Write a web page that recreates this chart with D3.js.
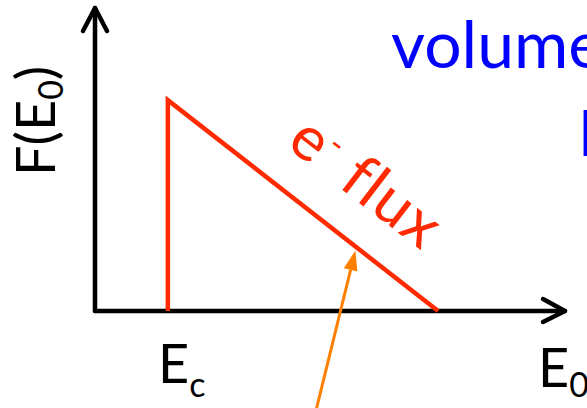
<!DOCTYPE html>
<html><head><meta charset="utf-8">
<script src="https://cdn.jsdelivr.net/npm/d3@7"></script>
<style>html,body{margin:0;padding:0;background:#fff;overflow:hidden}</style>
</head><body>
<script>
// Data (arbitrary energy/flux units)
const energy = [15.5, 15.5, 73];   // Ec, Ec, Emax
const flux   = [0, 69.6, 0];       // triangle spectrum
const axisLabels = {x: "E", xSub: "0", y: "F(E", ySub: "0"};
const cutLabel = "E", cutSub = "c";
const curveLabel = "e", curveSup = "-", curveRest = " flux";
const titleText = "volume";
const arrowFrom = [47, -33];   // orange pointer, data coords
const arrowTo = [55.4, 20];

const W = 587, H = 408;
const svg = d3.select("body").append("svg").attr("width", W).attr("height", H);
const x = d3.scaleLinear().domain([0, 100]).range([95, 565]);
const y = d3.scaleLinear().domain([0, 100]).range([311, 8]);
const font = "Lato, 'Open Sans', sans-serif";

// axes
const ax = svg.append("g").attr("stroke", "#000").attr("stroke-width", 4.5)
  .attr("stroke-linecap", "round").attr("stroke-linejoin", "round").attr("fill", "none");
ax.append("line").attr("x1", x(0)).attr("y1", y(0)).attr("x2", x(0)).attr("y2", y(100));
ax.append("line").attr("x1", x(0)).attr("y1", y(0)).attr("x2", x(100)).attr("y2", y(0));
ax.append("path").attr("d", `M${x(0)-12},${y(100)+23}L${x(0)},${y(100)}L${x(0)+12},${y(100)+23}`);
ax.append("path").attr("d", `M${x(100)-22},${y(0)-12}L${x(100)},${y(0)}L${x(100)-22},${y(0)+11}`);

// flux triangle
const line = d3.line().x((d,i)=>x(energy[i])).y((d,i)=>y(flux[i]));
svg.append("path").datum(energy).attr("d", line).attr("fill", "none")
  .attr("stroke", "#ff2a00").attr("stroke-width", 4.5).attr("stroke-linejoin", "miter");

// orange pointer
const ax1 = x(arrowFrom[0]), ay1 = y(arrowFrom[1]), ax2 = x(arrowTo[0]), ay2 = y(arrowTo[1]);
const ang = Math.atan2(ay2-ay1, ax2-ax1);
const hl = 20, hw = 7;
const bx = ax2 - hl*Math.cos(ang), by = ay2 - hl*Math.sin(ang);
svg.append("line").attr("x1", ax1).attr("y1", ay1).attr("x2", bx).attr("y2", by)
  .attr("stroke", "#ff8000").attr("stroke-width", 3);
svg.append("path").attr("fill", "#ff8000")
  .attr("d", `M${ax2},${ay2}L${bx - hw*Math.sin(ang)},${by + hw*Math.cos(ang)}L${bx + hw*Math.sin(ang)},${by - hw*Math.cos(ang)}Z`);

// labels
const yl = svg.append("text").attr("transform", `translate(55,176) rotate(-90)`)
  .attr("font-family", font).attr("font-size", 54).attr("fill", "#000");
yl.append("tspan").text(axisLabels.y);
yl.append("tspan").attr("font-size", 34).attr("dy", 8).text(axisLabels.ySub);
yl.append("tspan").attr("dy", -8).text(")");

const xl = svg.append("text").attr("x", 538).attr("y", 387)
  .attr("font-family", font).attr("font-size", 54).attr("fill", "#000");
xl.append("tspan").text(axisLabels.x);
xl.append("tspan").attr("font-size", 34).attr("dy", 10).text(axisLabels.xSub);

const cl = svg.append("text").attr("x", 158).attr("y", 383)
  .attr("font-family", font).attr("font-size", 54).attr("fill", "#000");
cl.append("tspan").text(cutLabel);
cl.append("tspan").attr("font-size", 34).attr("dy", 14).text(cutSub);

const fl = svg.append("text").attr("transform", `translate(285,146) rotate(37.5)`)
  .attr("font-family", font).attr("font-size", 62).attr("letter-spacing", 1.5)
  .attr("fill", "#ff2a00");
fl.append("tspan").text(curveLabel);
fl.append("tspan").attr("font-size", 34).attr("dy", -22).text(curveSup);
fl.append("tspan").attr("dy", 22).text(curveRest);

svg.append("text").attr("x", 391).attr("y", 68).attr("font-family", font)
  .attr("font-size", 66).attr("fill", "#0000ff").text(titleText);
svg.append("text").attr("x", 579).attr("y", 156).attr("font-family", font)
  .attr("font-size", 62).attr("fill", "#0000ff").text("l");
</script>
</body></html>
